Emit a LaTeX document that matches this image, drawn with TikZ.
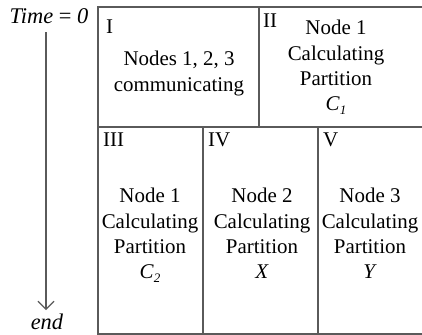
\documentclass[tikz,border=0pt]{standalone}
\usepackage{fontspec}
\setmainfont{Liberation Serif}
\usetikzlibrary{arrows.meta}
\definecolor{linegray}{HTML}{5A5A5A}
\newcommand{\subidx}[1]{\raisebox{-0.35ex}{\fontsize{13}{13}\selectfont\itshape #1}}
\begin{document}
\begin{tikzpicture}[x=1bp,y=-1bp,
  frame/.style={draw=linegray,line width=1.3bp},
  roman/.style={anchor=base west,inner sep=0,font=\fontsize{21}{24}\selectfont},
  blocktext/.style={anchor=north,inner sep=0,align=center,font=\fontsize{21}{25.5}\selectfont},
  timelbl/.style={inner sep=0,font=\fontsize{22.5}{26}\selectfont}]
\useasboundingbox (0,0) rectangle (422,335);
% frame lines
\coordinate (tl) at (98,7);
\coordinate (tr) at (423,7);
\coordinate (bl) at (98,334);
\coordinate (br) at (423,334);
\coordinate (ml) at (98,127);
\coordinate (mr) at (423,127);
\draw[frame] (tr) -- (tl) -- (bl) -- (br);
\draw[frame] (ml) -- (mr);
\draw[frame] (259,7) -- (259,127);
\draw[frame] (203,127) -- (203,334);
\draw[frame] (318,127) -- (318,334);
% roman labels
\node[roman] (rI) at (106,33) {I};
\node[roman] (rII) at (263,27) {II};
\node[roman] (rIII) at (103,146) {III};
\node[roman] (rIV) at (208,146) {IV};
\node[roman] (rV) at (323,146) {V};
% block texts
\node[blocktext] (tI) at (179,51) {Nodes 1, 2, 3\\communicating};
\node[blocktext] (tII) at (336,20) {Node 1\\Calculating\\Partition\\\textit{C}\subidx{1}};
\node[blocktext] (tIII) at (150,188) {Node 1\\Calculating\\Partition\\\textit{C}\subidx{2}};
\node[blocktext] (tIV) at (262,188) {Node 2\\Calculating\\Partition\\\textit{X}};
\node[blocktext] (tV) at (370,188) {Node 3\\Calculating\\Partition\\\textit{Y}};
% time axis
\node[timelbl,anchor=base] (time0) at (49,23) {\textit{Time} = \textit{0}};
\node[timelbl,anchor=base] (tend) at (47,329) {\textit{end}};
\coordinate (a0) at (46,32);
\coordinate (a1) at (46,310);
\draw[draw=linegray,line width=1.1bp,-{Straight Barb[length=8bp,width=16bp]}] (a0) -- (a1);
\end{tikzpicture}
\end{document}
